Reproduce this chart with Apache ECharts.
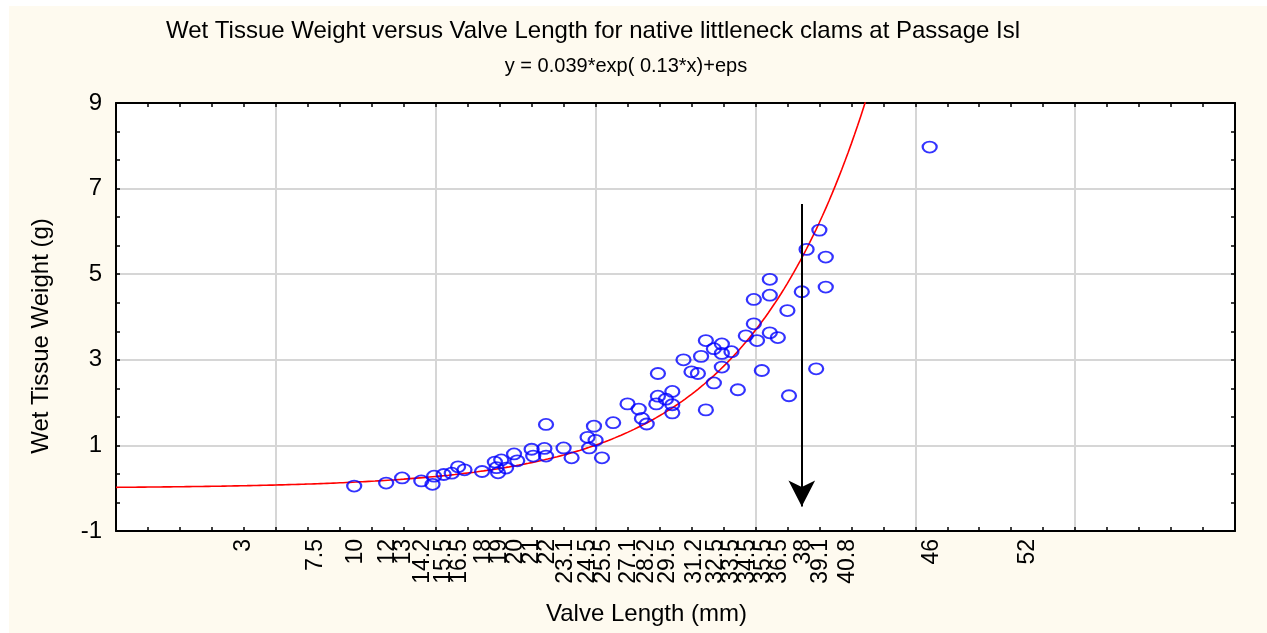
<!DOCTYPE html>
<html>
<head>
<meta charset="utf-8">
<script src="https://cdn.jsdelivr.net/npm/echarts@6/dist/echarts.min.js"></script>
<style>
  html, body { margin: 0; padding: 0; background: #fff; }
  #chart { width: 1267px; height: 633px; }
</style>
</head>
<body>
<div id="chart"></div>
<script>
// valve length (mm) and wet tissue weight (g)
const valveLength = [9.9, 11.9, 12.9, 14.1, 14.8, 14.9, 15.5, 16.0, 16.4, 16.8, 17.9, 18.7, 18.8, 18.9, 19.1, 19.4, 19.9, 20.1,
    21.0, 21.1, 21.8, 21.9, 21.9, 23.0, 23.5, 24.5, 24.6, 24.9, 25.0, 25.4, 26.1, 27.0, 27.7, 27.9, 28.2, 28.8, 28.9, 28.9,
    29.4, 29.8, 29.8, 29.8, 30.5, 31.0, 31.4, 31.6, 31.9, 31.9, 32.4, 32.4, 32.9, 32.9, 32.9, 33.5, 33.9, 34.4, 34.9, 34.9,
    35.1, 35.4, 35.9, 35.9, 35.9, 36.4, 37.0, 37.1, 37.9, 38.2, 38.8, 39.0, 39.4, 39.4, 45.9];
const wetWeight = [0.05, 0.12, 0.24, 0.17, 0.09, 0.28, 0.32, 0.35, 0.50, 0.43, 0.39, 0.61, 0.48, 0.36, 0.66, 0.47, 0.80, 0.64,
    0.91, 0.75, 0.93, 0.75, 1.49, 0.94, 0.71, 1.19, 0.94, 1.45, 1.12, 0.71, 1.53, 1.97, 1.85, 1.63, 1.50, 1.97, 2.15, 2.68,
    2.08, 2.26, 1.95, 1.76, 3.00, 2.72, 2.68, 3.08, 3.45, 1.83, 3.26, 2.46, 3.37, 3.15, 2.83, 3.19, 2.30, 3.56, 3.84, 4.41,
    3.45, 2.75, 4.88, 4.51, 3.63, 3.52, 4.15, 2.16, 4.59, 5.58, 2.79, 6.03, 5.40, 4.70, 7.97];

// x tick labels as printed under the axis
const xTickLabels = [3, 7.5, 10, 12, 13, 14.2, 15.5, 16.5, 18, 19, 20, 21, 22, 23.1, 24.5, 25.5, 27.1, 28.2, 29.5,
    31.2, 32.5, 33.5, 34.5, 35.5, 36.5, 38, 39.1, 40.8, 46, 52];

// fitted model from the subtitle: y = a*exp(b*x)
const fitA = 0.039;
const fitB = 0.13;

// arrow annotation (data coords)
const arrowX = 37.9;
const arrowFrom = 6.64;
const arrowTo = -0.43;

const chart = echarts.init(document.getElementById("chart"));

const points = valveLength.map((x, i) => [x, wetWeight[i]]);

const fitCurve = [];
for (let x = -5; x <= 43; x += 0.2) {
    fitCurve.push([x, fitA * Math.exp(fitB * x)]);
}

const FONT = "Liberation Sans, Arial, sans-serif";
const gridLine = { show: true, lineStyle: { color: "#d6d6d6", width: 2 } };
const frame = { show: true, onZero: false, lineStyle: { color: "#000", width: 2 } };
const tick = { show: true, inside: true, length: 4, lineStyle: { color: "#000", width: 1.5 } };
const minor = (n) => ({ show: true, splitNumber: n, length: 4, lineStyle: { color: "#000", width: 1.5 } });

chart.setOption({
    animation: false,
    title: [
        {
            text: "Wet Tissue Weight versus Valve Length for native littleneck clams at Passage Isl",
            left: 593, top: 19, textAlign: "center", padding: 0,
            textStyle: { fontFamily: FONT, fontSize: 24, fontWeight: "normal", color: "#000" }
        },
        {
            text: "y = 0.039*exp( 0.13*x)+eps",
            left: 626, top: 56, textAlign: "center", padding: 0,
            textStyle: { fontFamily: FONT, fontSize: 20, fontWeight: "normal", color: "#000" }
        }
    ],
    graphic: [{
        type: "rect", left: 9, top: 6, z: -100, silent: true,
        shape: { width: 1258, height: 627 },
        style: { fill: "#fefaef" }
    }],
    grid: {
        left: 116, top: 103, width: 1119, height: 428,
        show: true, backgroundColor: "#fff", borderWidth: 0,
        outerBoundsMode: "none"
    },
    xAxis: [
        {
            type: "value", position: "bottom", min: -5, max: 65, interval: 10,
            axisLine: frame, axisTick: tick, minorTick: minor(5),
            splitLine: gridLine,
            axisLabel: {
                customValues: xTickLabels, rotate: 90, margin: 8, hideOverlap: false,
                fontFamily: FONT, fontSize: 23, color: "#000"
            },
            name: "Valve Length (mm)", nameLocation: "middle", nameGap: 71,
            nameTextStyle: { fontFamily: FONT, fontSize: 24, color: "#000", padding: [0, 58, 0, 0] }
        },
        {
            type: "value", position: "top", min: -5, max: 65, interval: 10,
            axisLine: frame, axisTick: tick, minorTick: minor(5),
            splitLine: { show: false }, axisLabel: { show: false }
        }
    ],
    yAxis: [
        {
            type: "value", position: "left", min: -1, max: 9, interval: 2,
            axisLine: frame, axisTick: tick, minorTick: minor(3),
            splitLine: gridLine,
            axisLabel: { margin: 14, fontFamily: FONT, fontSize: 24, color: "#000" },
            name: "Wet Tissue Weight (g)", nameLocation: "middle", nameGap: 63,
            nameTextStyle: { fontFamily: FONT, fontSize: 24, color: "#000", padding: [0, 38, 0, 0] }
        },
        {
            type: "value", position: "right", min: -1, max: 9, interval: 2,
            axisLine: frame, axisTick: tick, minorTick: minor(3),
            splitLine: { show: false }, axisLabel: { show: false }
        }
    ],
    series: [
        {
            name: "fit", type: "line", data: fitCurve, clip: true,
            showSymbol: false, symbol: "none", smooth: false, z: 2,
            lineStyle: { color: "#ff0000", width: 1.6 }
        },
        {
            name: "clams", type: "scatter", data: points, z: 3,
            symbol: "circle", symbolSize: [14, 11],
            itemStyle: { color: "rgba(0,0,0,0)", borderColor: "#0000ff", borderWidth: 2 },
            markLine: {
                silent: true, animation: false,
                symbol: ["none", "arrow"], symbolSize: [20, 26],
                label: { show: false },
                lineStyle: { color: "#000", width: 2, type: "solid" },
                data: [[{ coord: [arrowX, arrowFrom] }, { coord: [arrowX, arrowTo] }]]
            }
        }
    ]
});
</script>
</body>
</html>
